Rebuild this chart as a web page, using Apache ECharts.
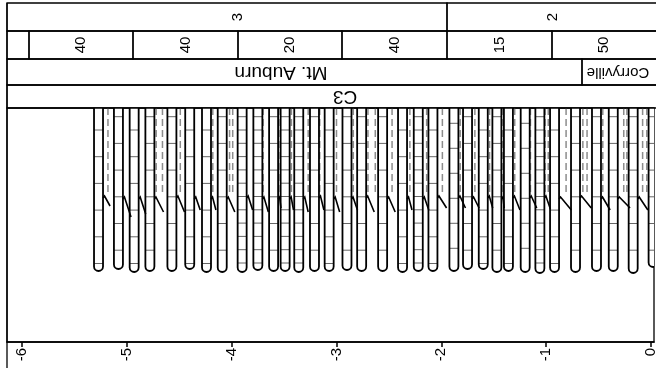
<!DOCTYPE html>
<html><head><meta charset="utf-8">
<script src="https://cdn.jsdelivr.net/npm/echarts@6/dist/echarts.min.js"></script>
<style>html,body{margin:0;padding:0;background:#fff}#c{width:656px;height:368px}</style>
</head><body><div id="c"></div>
<script>
// ---- data ----
const xTicks = [-6, -5, -4, -3, -2, -1, 0];
const stripRow1 = ['3', '2'];
const stripRow2 = ['', '40', '40', '20', '40', '15', '50'];
const stripRow3 = ['Mt. Auburn', 'Corryville'];
const stripRow4 = ['C3'];
// tube (well) positions on x axis
const tubeX = [-5.27,-5.08,-4.93,-4.78,-4.57,-4.40,-4.24,-4.09,-3.90,-3.75,-3.60,-3.49,-3.36,-3.21,-3.07,-2.90,-2.76,-2.56,-2.37,-2.22,-2.08,-1.88,-1.75,-1.60,-1.47,-1.36,-1.20,-1.06,-0.92,-0.72,-0.52,-0.36,-0.17,0.02];
// tube bottom depth
const tubeBottom = [16.3,16.1,16.4,16.3,16.3,16.1,16.4,16.4,16.4,16.2,16.3,16.3,16.4,16.3,16.3,16.2,16.3,16.3,16.4,16.3,16.3,16.3,16.1,16.1,16.4,16.3,16.4,16.5,16.4,16.4,16.3,16.3,16.5,15.9];
// first inner mark depth and spacing for each tube
const markStart = [2.2,0.87,2.2,0.87,0.87,2.2,2.2,0.87,0.87,0.87,0.87,0.87,0.87,0.87,2.2,0.87,0.87,0.87,2.2,0.87,2.2,1.53,0.87,2.2,0.87,2.2,1.53,0.87,2.2,0.87,0.87,0.87,0.87,0.87];
const markStep  = [2.67,2.67,2.67,2.67,2.67,2.67,2.67,2.67,1.33,1.33,2.67,1.33,1.33,2.67,2.67,2.67,2.67,2.67,2.67,1.33,2.67,2.5,2.67,2.67,2.67,2.67,2.5,1.33,2.67,2.67,2.67,2.67,2.67,2.67];
// dashed (screen) lines: x position and bottom depth
const dashX = [-5.18,-4.89,-4.72,-4.66,-4.49,-4.38,-4.18,-4.02,-3.99,-3.70,-3.55,-3.43,-3.27,-3.16,-3.00,-2.84,-2.70,-2.63,-2.47,-2.30,-2.14,-1.99,-1.82,-1.68,-1.54,-1.42,-1.30,-1.15,-1.01,-0.98,-0.81,-0.65,-0.61,-0.46,-0.26,-0.23,-0.08,-0.04];
const dashEnd = [8.8,8.6,8.8,8.8,8.6,8.8,8.8,8.6,8.8,8.6,8.8,8.8,8.6,8.8,8.8,8.6,8.8,8.6,8.8,8.8,8.8,8.8,8.6,8.8,8.8,8.6,8.8,8.8,8.6,8.8,8.8,8.8,8.6,8.8,8.8,8.6,8.8,8.8];
// water level hooks: end x, start depth, end depth (start at tube right edge)
const hookEndX = [-5.16,-4.96,-4.82,-4.65,-4.45,-4.30,-4.15,-3.97,-3.80,-3.65,-3.53,-3.41,-3.27,-3.12,-2.97,-2.80,-2.64,-2.44,-2.28,-2.12,-1.95,-1.77,-1.64,-1.51,-1.40,-1.25,-1.09,-0.96,-0.76,-0.57,-0.39,-0.20,-0.03];
const hookD0 = [8.9,9.0,9.0,9.0,8.9,9.0,9.0,9.0,8.9,9.0,9.0,9.0,9.0,8.9,9.0,9.0,8.9,9.0,9.0,9.0,8.9,8.9,9.0,8.9,9.0,8.9,8.9,8.9,9.0,8.9,9.0,9.0,9.0];
const hookD1 = [9.8,10.9,10.6,10.4,10.4,10.2,10.2,10.4,10.2,10.4,10.0,10.2,10.4,10.2,10.4,10.2,10.4,10.4,10.2,10.2,10.0,10.0,10.0,10.0,10.0,10.2,10.0,10.1,10.2,10.0,10.2,10.0,10.2];

const chart = echarts.init(document.getElementById('c'), null, {renderer: 'canvas'});
const HW = 4.5;
const FONT = 'Liberation Sans, Arial, Helvetica, sans-serif';

function tubeItem(params, api) {
  const x = api.value(0), bottom = api.value(1), start = api.value(2), step = api.value(3);
  const top = api.coord([x, 0]);
  const bot = api.coord([x, bottom]);
  const cx = top[0];
  const children = [];
  const path = 'M' + (cx - HW) + ' ' + top[1] + ' L' + (cx - HW) + ' ' + (bot[1] - HW) +
    ' A' + HW + ' ' + HW + ' 0 0 0 ' + (cx + HW) + ' ' + (bot[1] - HW) + ' L' + (cx + HW) + ' ' + top[1];
  children.push({type: 'path', shape: {pathData: path + ' Z'}, style: {fill: '#fff', stroke: null}});
  for (let d = start; d < bottom - 0.4; d += step) {
    const p = api.coord([x, d]);
    children.push({type: 'line', shape: {x1: cx - HW, y1: p[1], x2: cx + HW, y2: p[1]}, style: {stroke: '#666', lineWidth: 1}});
  }
  children.push({type: 'path', shape: {pathData: path}, style: {fill: null, stroke: '#000', lineWidth: 1.8}});
  return {type: 'group', children};
}
function dashItem(params, api) {
  const a = api.coord([api.value(0), 0]);
  const b = api.coord([api.value(0), api.value(1)]);
  return {type: 'line', shape: {x1: a[0], y1: a[1], x2: b[0], y2: b[1]}, style: {stroke: '#8c8c8c', lineWidth: 1.5, lineDash: [7, 4]}};
}
function hookItem(params, api) {
  const a = api.coord([api.value(0), api.value(2)]);
  const b = api.coord([api.value(1), api.value(3)]);
  const x0 = a[0] + HW;
  return {type: 'polyline', shape: {points: [[x0, a[1] + 1], [x0 + 1.5, a[1] - 1], [b[0], b[1]]]}, style: {stroke: '#000', lineWidth: 1.6, fill: null}};
}

const graphics = [];
function cell(x1, y1, x2, y2) {
  graphics.push({type: 'rect', shape: {x: x1, y: y1, width: x2 - x1, height: y2 - y1}, style: {fill: null, stroke: '#000', lineWidth: 1.3}, z: 10});
}
function label(txt, x, y, rot, size) {
  graphics.push({type: 'text', x: x, y: y, rotation: rot, style: {text: txt, fill: '#000', font: size + 'px ' + FONT, textAlign: 'center', textVerticalAlign: 'middle'}, z: 11});
}
// row 1
cell(7, 3, 447, 31); cell(447, 3, 700, 31);
label(stripRow1[0], 238, 17, Math.PI / 2, 15);
label(stripRow1[1], 553, 17, Math.PI / 2, 15);
// row 2
const r2 = [7, 29, 133, 238, 342, 447, 552, 700];
for (let i = 0; i < stripRow2.length; i++) {
  cell(r2[i], 31, r2[i + 1], 59);
  if (stripRow2[i]) label(stripRow2[i], (i === stripRow2.length - 1) ? 604 : (r2[i] + r2[i + 1]) / 2, 45, Math.PI / 2, 15);
}
// row 3
cell(7, 59, 582, 85); cell(582, 59, 700, 85);
label(stripRow3[0], 281, 72, Math.PI, 19);
label(stripRow3[1], 618, 72, Math.PI, 15);
// row 4
cell(7, 85, 700, 108);
label(stripRow4[0], 345, 96, Math.PI, 19);
// left border extending below axis
graphics.push({type: 'line', shape: {x1: 7, y1: 3, x2: 7, y2: 368}, style: {stroke: '#000', lineWidth: 1.3}, z: 12});

chart.setOption({
  animation: false,
  backgroundColor: '#fff',
  grid: {left: 7, right: 2, top: 108, bottom: 26, containLabel: false, outerBoundsMode: 'none', show: true, borderColor: '#000', borderWidth: 1.3, backgroundColor: 'transparent'},
  xAxis: {
    type: 'value', min: -6.143, max: 0.0286,
    axisLine: {show: true, onZero: false, lineStyle: {color: '#000', width: 1.5}},
    axisTick: {show: true, length: 5, lineStyle: {color: '#000', width: 1.5}, customValues: xTicks},
    axisLabel: {rotate: 90, margin: 6, color: '#000', fontSize: 15, fontFamily: FONT, customValues: xTicks, formatter: v => String(v)},
    splitLine: {show: false}
  },
  yAxis: {type: 'value', inverse: true, min: 0, max: 23.4, show: false, splitLine: {show: false}},
  graphic: graphics,
  series: [
    {type: 'custom', renderItem: dashItem, data: dashX.map((x, i) => [x, dashEnd[i]]), z: 2, clip: true},
    {type: 'custom', renderItem: tubeItem, data: tubeX.map((x, i) => [x, tubeBottom[i], markStart[i], markStep[i]]), z: 3, clip: true},
    {type: 'custom', renderItem: hookItem, data: hookEndX.map((x, i) => [tubeX[i], x, hookD0[i], hookD1[i]]), z: 4, clip: true}
  ]
});
</script></body></html>
